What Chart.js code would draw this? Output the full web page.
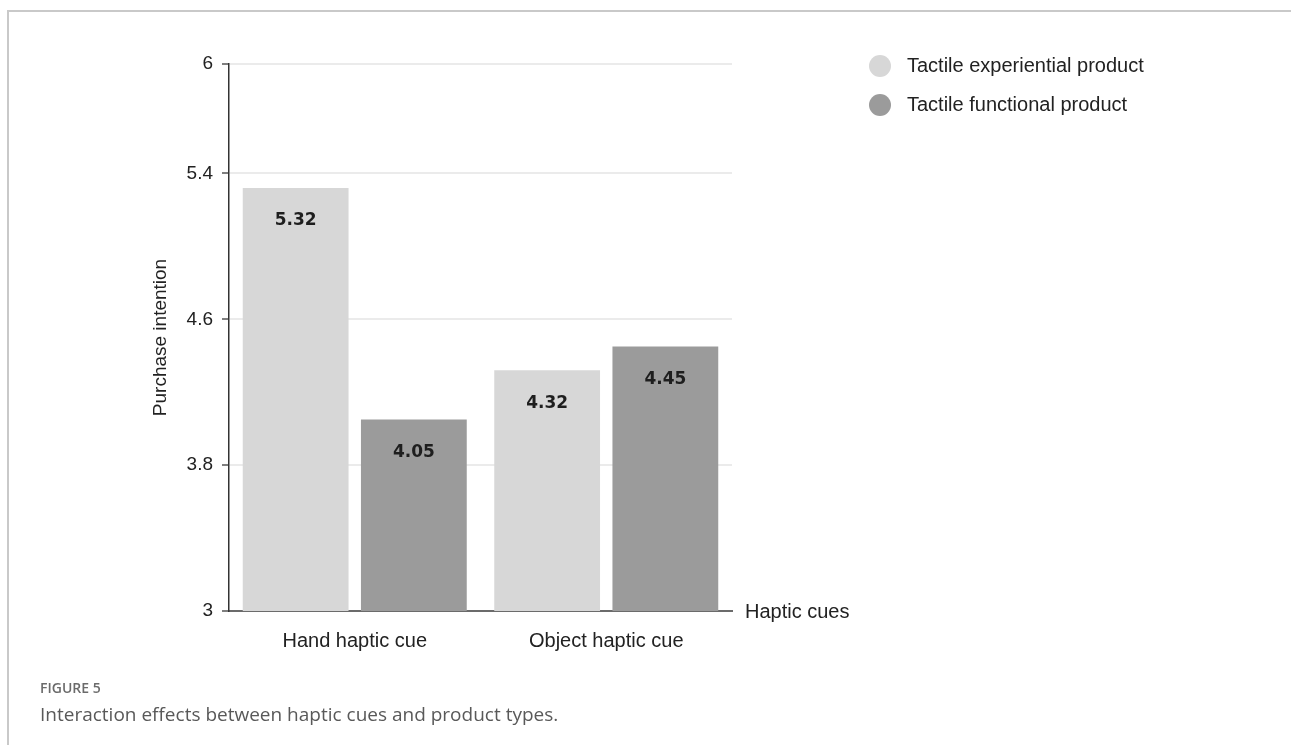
<!DOCTYPE html>
<html>
<head>
<meta charset="utf-8">
<script src="https://cdn.jsdelivr.net/npm/chart.js@4"></script>
<style>
  html, body { margin: 0; padding: 0; background: #fff; }
  body { width: 1291px; height: 745px; position: relative; overflow: hidden; }
  #frame { position: absolute; left: 7px; top: 10px; right: -5px; bottom: -5px;
           border-left: 2px solid #c9c9c9; border-top: 2px solid #c9c9c9; }
  #wrap { position: absolute; left: 0; top: 0; width: 1291px; height: 745px; }
  .figlabel { position: absolute; left: 40px; top: 678px; font-family: "Open Sans", sans-serif;
              font-size: 14px; font-weight: 600; color: #6b6b6b; }
  .caption { position: absolute; left: 40px; top: 701px; font-family: "Open Sans", sans-serif;
             font-size: 19px; color: #595959; }
</style>
</head>
<body>
<div id="frame"></div>
<div id="wrap"><canvas id="barChart" width="1291" height="745"></canvas></div>
<div class="figlabel">FIGURE 5</div>
<div class="caption">Interaction effects between haptic cues and product types.</div>
<script>
var categories = ["Hand haptic cue", "Object haptic cue"];
var seriesNames = ["Tactile experiential product", "Tactile functional product"];
var experientialValues = [5.32, 4.32];
var functionalValues = [4.05, 4.45];
var yTicks = [3, 3.8, 4.6, 5.4, 6];
var barColors = ["#d7d7d7", "#9b9b9b"];

var labelFont = "Liberation Sans, Arial, sans-serif";

// value labels inside the bars, near the top
var valueLabels = {
  id: 'valueLabels',
  afterDatasetsDraw: function (chart) {
    var ctx = chart.ctx;
    ctx.save();
    ctx.font = "bold 17px 'DejaVu Sans', sans-serif";
    ctx.fillStyle = "#1e1e1e";
    ctx.textAlign = "center";
    ctx.textBaseline = "middle";
    chart.data.datasets.forEach(function (ds, i) {
      chart.getDatasetMeta(i).data.forEach(function (bar, j) {
        ctx.fillText(ds.data[j].toFixed(2), bar.x, bar.y + 33);
      });
    });
    ctx.restore();
  }
};

// legend on the right and the x axis name at the end of the axis
var sideTexts = {
  id: 'sideTexts',
  afterDraw: function (chart) {
    var ctx = chart.ctx;
    var area = chart.chartArea;
    ctx.save();
    ctx.font = "20px " + labelFont;
    ctx.textBaseline = "middle";
    ctx.textAlign = "left";
    chart.data.datasets.forEach(function (ds, i) {
      var y = 66 + i * 39;
      ctx.beginPath();
      ctx.arc(880, y, 11, 0, Math.PI * 2);
      ctx.fillStyle = ds.backgroundColor;
      ctx.fill();
      ctx.fillStyle = "#222";
      ctx.fillText(ds.label, 907, y);
    });
    ctx.fillStyle = "#222";
    ctx.fillText("Haptic cues", area.right + 13, area.bottom + 1);
    ctx.restore();
  }
};

var ctx = document.getElementById("barChart").getContext('2d');
var myBarChart = new Chart(ctx, {
  type: 'bar',
  data: {
    labels: categories,
    datasets: [{
      label: seriesNames[0],
      data: experientialValues,
      backgroundColor: barColors[0]
    }, {
      label: seriesNames[1],
      data: functionalValues,
      backgroundColor: barColors[1]
    }]
  },
  options: {
    responsive: false,
    animation: false,
    categoryPercentage: 0.94,
    barPercentage: 0.895,
    layout: { padding: { left: 140, top: 64, right: 559, bottom: 0 } },
    plugins: {
      legend: { display: false },
      tooltip: { enabled: false }
    },
    scales: {
      x: {
        afterFit: function (scale) { scale.height = 134; },
        grid: { display: true, drawOnChartArea: false, drawTicks: false },
        border: { display: true, color: "#6b6b6b", width: 2 },
        ticks: { color: "#222", padding: 18, font: { family: labelFont, size: 20 } }
      },
      y: {
        min: 3,
        max: 6,
        afterFit: function (scale) { scale.width = 89; },
        afterBuildTicks: function (scale) {
          scale.ticks = yTicks.map(function (v) { return { value: v }; });
        },
        grid: { color: "#ebebeb", lineWidth: 2, tickColor: "#555", tickLength: 7, tickWidth: 1.5 },
        border: { display: true, color: "#333", width: 1.5 },
        ticks: {
          color: "#222",
          padding: 9,
          font: { family: labelFont, size: 19 },
          callback: function (v) { return String(v); }
        },
        title: {
          display: true,
          text: "Purchase intention",
          color: "#222",
          font: { family: labelFont, size: 19 },
          padding: { top: 9, bottom: 0 }
        }
      }
    }
  },
  plugins: [valueLabels, sideTexts]
});
</script>
</body>
</html>
